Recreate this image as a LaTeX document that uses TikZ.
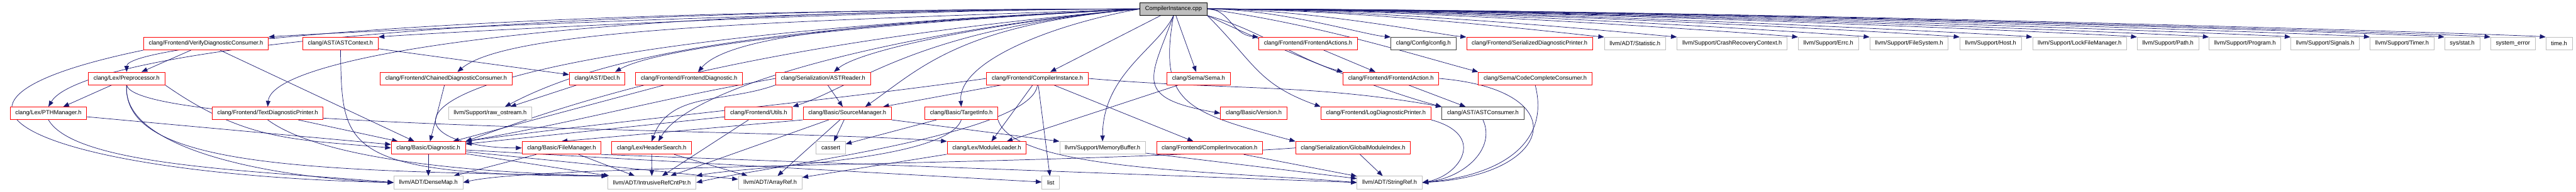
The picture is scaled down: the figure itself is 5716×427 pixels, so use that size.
\documentclass[tikz,border=0pt]{standalone}
\usepackage{fontspec}
\setmainfont{Liberation Sans}
\usetikzlibrary{arrows.meta, backgrounds}

\definecolor{edgeblue}{RGB}{25, 25, 112}
\definecolor{hdrred}{RGB}{255, 0, 0}
\definecolor{sysgray}{RGB}{191, 191, 191}
\definecolor{docgray}{RGB}{64, 64, 64}
\definecolor{rootfill}{RGB}{191, 191, 191}

\begin{document}
\begin{tikzpicture}[
  x=0.1pt, y=0.1pt,
  file/.style={rectangle, fill=white, minimum height=2.8pt, inner xsep=1.15pt, inner ysep=0pt,
               font=\fontsize{1.3}{1.5}\selectfont, line width=0.12pt},
  hdr/.style={file, draw=hdrred},
  sys/.style={file, draw=sysgray},
  doc/.style={file, draw=docgray},
  rootbox/.style={file, draw=black, fill=rootfill},
  dep/.style={-{Triangle[length=1.3pt, width=1pt]}, draw=edgeblue, line width=0.1pt}
]
\useasboundingbox (0,0) rectangle (5716,-427);

% source file
\node[rootbox] (root) at (2604,-20) {CompilerInstance.cpp};

% row 1
\node[hdr] (verify)    at (457,-97)    {clang/Frontend/VerifyDiagnosticConsumer.h};
\node[hdr] (astctx)    at (755.5,-97)  {clang/AST/ASTContext.h};
\node[hdr] (factions)  at (2902.5,-97) {clang/Frontend/FrontendActions.h};
\node[doc] (config)    at (3158.5,-97) {clang/Config/config.h};
\node[hdr] (serdiag)   at (3394,-97)   {clang/Frontend/SerializedDiagnosticPrinter.h};
\node[sys] (statistic) at (3628,-97)   {llvm/ADT/Statistic.h};
\node[sys] (crashrc)   at (3843.5,-97) {llvm/Support/CrashRecoveryContext.h};
\node[sys] (errc)      at (4057,-97)   {llvm/Support/Errc.h};
\node[sys] (filesys)   at (4236,-97)   {llvm/Support/FileSystem.h};
\node[sys] (host)      at (4417,-97)   {llvm/Support/Host.h};
\node[sys] (lockfile)  at (4614.5,-97) {llvm/Support/LockFileManager.h};
\node[sys] (supath)    at (4810.5,-97) {llvm/Support/Path.h};
\node[sys] (program)   at (4981.5,-97) {llvm/Support/Program.h};
\node[sys] (signals)   at (5159.5,-97) {llvm/Support/Signals.h};
\node[sys] (timer)     at (5330,-97)   {llvm/Support/Timer.h};
\node[sys] (sysstat)   at (5463.5,-97) {sys/stat.h};
\node[sys] (syserr)    at (5576,-97)   {system\_error};
\node[sys] (timeh)     at (5678.5,-97) {time.h};

% row 2
\node[hdr] (pp)        at (281,-174.5)    {clang/Lex/Preprocessor.h};
\node[hdr] (chained)   at (990,-174.5)    {clang/Frontend/ChainedDiagnosticConsumer.h};
\node[hdr] (decl)      at (1325,-174.5)   {clang/AST/Decl.h};
\node[hdr] (fediag)    at (1529,-174.5)   {clang/Frontend/FrontendDiagnostic.h};
\node[hdr] (astreader) at (1826.5,-174.5) {clang/Serialization/ASTReader.h};
\node[hdr] (cih)       at (2302,-174.5)   {clang/Frontend/CompilerInstance.h};
\node[hdr] (sema)      at (2659.5,-174.5) {clang/Sema/Sema.h};
\node[hdr] (faction)   at (3086.5,-174.5) {clang/Frontend/FrontendAction.h};
\node[hdr] (ccc)       at (3406.5,-174.5) {clang/Sema/CodeCompleteConsumer.h};

% row 3
\node[hdr] (pth)      at (107.5,-252)  {clang/Lex/PTHManager.h};
\node[hdr] (textdiag) at (594,-252)    {clang/Frontend/TextDiagnosticPrinter.h};
\node[sys] (rawos)    at (1087.5,-252) {llvm/Support/raw\_ostream.h};
\node[hdr] (utils)    at (1683.5,-252) {clang/Frontend/Utils.h};
\node[hdr] (srcmgr)   at (1880,-252)   {clang/Basic/SourceManager.h};
\node[hdr] (target)   at (2133,-252)   {clang/Basic/TargetInfo.h};
\node[hdr] (version)  at (2782,-252)   {clang/Basic/Version.h};
\node[hdr] (logdiag)  at (3053,-252)   {clang/Frontend/LogDiagnosticPrinter.h};
\node[doc] (astcons)  at (3290.5,-252) {clang/AST/ASTConsumer.h};

% row 4
\node[hdr] (diag)    at (950.5,-329)  {clang/Basic/Diagnostic.h};
\node[hdr] (filemgr) at (1246,-329)   {clang/Basic/FileManager.h};
\node[hdr] (hsearch) at (1446,-329)   {clang/Lex/HeaderSearch.h};
\node[sys] (cassert) at (1843.5,-329) {cassert};
\node[hdr] (modload) at (2189.5,-329) {clang/Lex/ModuleLoader.h};
\node[sys] (membuf)  at (2446.5,-329) {llvm/Support/MemoryBuffer.h};
\node[hdr] (cinv)    at (2684,-329)   {clang/Frontend/CompilerInvocation.h};
\node[hdr] (gmi)     at (3002.5,-329) {clang/Serialization/GlobalModuleIndex.h};

% row 5
\node[sys] (densemap)  at (950.5,-406)  {llvm/ADT/DenseMap.h};
\node[sys] (irc)       at (1446.5,-406) {llvm/ADT/IntrusiveRefCntPtr.h};
\node[sys] (arrayref)  at (1709,-406)   {llvm/ADT/ArrayRef.h};
\node[sys] (stdlist)   at (2331.5,-406) {list};
\node[sys] (stringref) at (3083.5,-406) {llvm/ADT/StringRef.h};

\begin{scope}[on background layer]
% includes of the source file
\foreach \n/\d in {factions/50,config/160,serdiag/230,statistic/350,crashrc/400,errc/500,
                   filesys/580,host/650,lockfile/700,supath/800,program/850,signals/900,
                   timer/1000,sysstat/1050,syserr/1100,timeh/1150}
  \draw[dep] (root.east) .. controls +(0:\d) and +(175:60) .. (\n.north west);
\draw[dep] (root.west) .. controls +(180:700) and +(5:80) .. (verify.north east);
\draw[dep] (root.west) .. controls +(180:600) and +(5:80) .. (astctx.north east);
\draw[dep] (root.west) .. controls +(180:1500) and +(90:60) .. (pp.north);
\draw[dep] (root.west) .. controls +(182:800) and +(40:150) .. ([xshift=2.5pt]chained.north);
\draw[dep] (root.west) .. controls +(183:700) and +(30:100) .. ([xshift=4pt]decl.north);
\draw[dep] (root.west) .. controls +(183:500) and +(50:120) .. ([xshift=2pt]fediag.north);
\draw[dep] (root.west) .. controls +(185:300) and +(40:80) .. ([xshift=2.4pt]astreader.north);
\draw[dep] (root) -- (cih);
\draw[dep] (root.west) .. controls +(180:1700) and +(60:120) .. (pth.north);
\draw[dep] (root.west) .. controls +(180:1300) and +(85:110) .. (textdiag.north);
\draw[dep] (root.west) .. controls +(183:700) and +(28:300) .. ([xshift=3.3pt]rawos.north);
\draw[dep] (root.west) .. controls +(185:500) and +(18:150) .. (utils.north east);
\draw[dep] (root.west) .. controls +(185:400) and +(35:150) .. ([xshift=4pt]srcmgr.north);
\draw[dep] (root.west) .. controls +(190:200) and +(95:100) .. (target.north);
\draw[dep] (root.west) .. controls +(185:900) and +(20:250) .. (diag.north east);
\draw[dep] (root.west) .. controls (700,-100) and (850,-330) .. (filemgr.west);
\draw[dep] (root.west) .. controls +(185:500) and +(60:150) .. ([xshift=1.5pt]hsearch.north);
\draw[dep] (root.south) .. controls +(-115:80) and +(90:150) .. (membuf.north);
\draw[dep] (root) -- (sema);
\draw[dep] (root.south) .. controls +(-110:150) and +(170:200) .. (version.west);
\draw[dep] (root.south) .. controls +(-100:200) and +(165:250) .. (gmi.north west);
\draw[dep] (root.south east) .. controls +(-15:120) and +(165:100) .. (faction.north west);
\draw[dep] (root.east) .. controls +(-8:250) and +(165:150) .. (ccc.north west);
\draw[dep] (root.south east) .. controls +(-45:150) and +(160:150) .. (logdiag.north west);
\draw[dep] (root.south east) .. controls +(-25:200) and +(165:150) .. (astcons.north west);

% includes of the headers
\draw[dep] (verify) -- (pp);
\draw[dep] (verify) -- (diag);
\draw[dep] (verify.south west) .. controls (-300,-240) and (150,-390) .. (densemap.west);
\draw[dep] (pp) -- (pth);
\draw[dep] (pp.south east) .. controls +(-35:217) and +(175:217) .. (diag.west);
\draw[dep] (pp.south) .. controls (268,-337) and (623,-397) .. (densemap.west);
\draw[dep] (pp.south) .. controls (270,-375) and (700,-380) .. (irc.north west);
\draw[dep] (pp.south) .. controls (300,-290) and (1700,-285) .. (modload.north west);
\draw[dep] (pth) -- (diag);
\draw[dep] (pth.south) .. controls (167,-370) and (574,-380) .. (densemap.west);
\draw[dep] (astctx) -- (decl);
\draw[dep] (astctx.south) .. controls (760,-330) and (750,-390) .. (irc.north west);
\draw[dep] (chained) -- (diag);
\draw[dep] (textdiag) -- (diag);
\draw[dep] (textdiag.south) .. controls (680,-330) and (900,-380) .. (irc.north west);
\draw[dep] (decl) -- (rawos);
\draw[dep] (fediag) -- (diag);
\draw[dep] (astreader.south west) .. controls +(-160:118) and +(70:118) .. (hsearch.north);
\draw[dep] (astreader) -- (srcmgr);
\draw[dep] (astreader.west) .. controls +(190:273) and +(10:273) .. (diag.north east);
\draw[dep] (cih) -- (srcmgr);
\draw[dep] (cih) -- (modload);
\draw[dep] (cih) -- (cinv);
\draw[dep] (cih) -- (stdlist);
\draw[dep] (cih.west) .. controls +(188:400) and +(8:300) .. (diag.north east);
\draw[dep] (cih.south) .. controls (2290,-300) and (1700,-370) .. (irc.east);
\draw[dep] (cih.east) .. controls +(-5:307) and +(170:300) .. (astcons.north west);
\draw[dep] (sema) -- (modload);
\draw[dep] (factions) -- (faction);
\draw[dep] (faction) -- (astcons);
\draw[dep] (faction.east) .. controls (3500,-200) and (3450,-390) .. (stringref.east);
\draw[dep] (ccc.south) .. controls (3440,-320) and (3330,-390) .. (stringref.east);
\draw[dep] (astcons.south) .. controls (3320,-330) and (3250,-395) .. (stringref.east);
\draw[dep] (logdiag.south east) .. controls (3300,-300) and (3240,-390) .. (stringref.east);
\draw[dep] (utils) -- (irc);
\draw[dep] (utils) -- (diag);
\draw[dep] (srcmgr.south west) -- (filemgr.north);
\draw[dep] (srcmgr) -- (irc);
\draw[dep] (srcmgr) -- (arrayref);
\draw[dep] (srcmgr) -- (cassert);
\draw[dep] (srcmgr.south east) -- (membuf.north west);
\draw[dep] (target) -- (cassert);
\draw[dep] (target.south) .. controls (2100,-360) and (1650,-370) .. (irc.north east);
\draw[dep] (target.south east) .. controls (2250,-380) and (2700,-380) .. (stringref.west);
\draw[dep] (diag) -- (densemap);
\draw[dep] (diag) -- (irc);
\draw[dep] (diag) -- (arrayref);
\draw[dep] (diag) -- (stdlist);
\draw[dep] (filemgr) -- (densemap);
\draw[dep] (filemgr) -- (irc);
\draw[dep] (filemgr.south east) -- (stringref.west);
\draw[dep] (hsearch) -- (irc);
\draw[dep] (hsearch) -- (arrayref);
\draw[dep] (modload) -- (arrayref);
\draw[dep] (membuf) -- (stringref);
\draw[dep] (cinv) -- (stringref);
\draw[dep] (gmi) -- (stringref);
\draw[dep] (gmi.west) .. controls (2300,-370) and (1200,-365) .. (densemap.east);
\end{scope}
\end{tikzpicture}
\end{document}
